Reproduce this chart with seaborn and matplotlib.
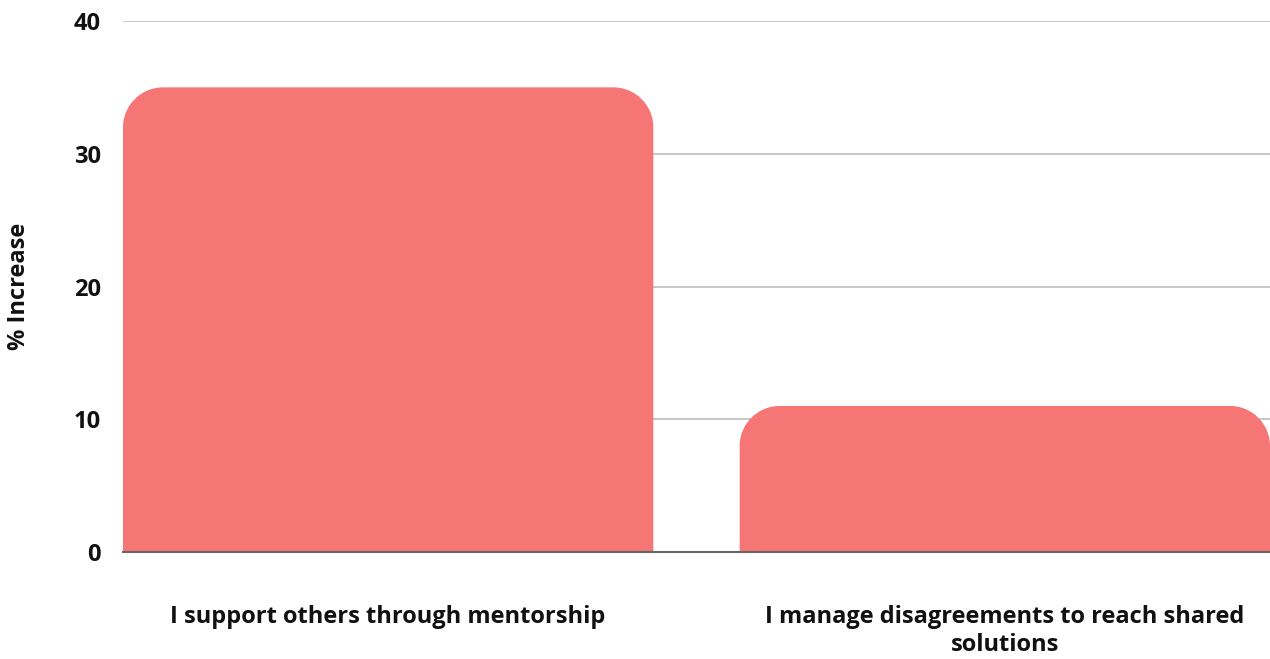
import matplotlib
matplotlib.use('Agg')
import matplotlib.pyplot as plt
import seaborn as sns
import pandas as pd
from matplotlib.path import Path
from matplotlib.patches import PathPatch

# ─── Data ────────────────────────────────────────────────────────────────────
categories = ['I support others through mentorship',
              'I manage disagreements to reach shared\nsolutions']
values = [35, 11]
y_ticks = [0, 10, 20, 30, 40]

BAR_COLOR = '#F67575'
df = pd.DataFrame({'category': categories, 'value': values})

sns.set_theme(style='white')
plt.rcParams['font.family'] = ['Open Sans', 'DejaVu Sans']

fig = plt.figure(figsize=(12.7, 6.59), dpi=100)
ax = fig.add_axes([123 / 1270, 1 - 552 / 659, (1270 - 123) / 1270, (552 - 21) / 659])

sns.barplot(data=df, x='category', y='value', color=BAR_COLOR,
            saturation=1, width=0.86, ax=ax, zorder=2)

ax.set_xlim(-0.43, 1.43)
ax.set_ylim(0, 40)
ax.set_yticks(y_ticks)


# ─── Round the top corners of each bar ───────────────────────────────────────
def rounded_top(x0, x1, y1, rx, ry):
    k = 0.5523
    verts = [(x0, 0), (x0, y1 - ry),
             (x0, y1 - ry + k * ry), (x0 + rx - k * rx, y1), (x0 + rx, y1),
             (x1 - rx, y1),
             (x1 - rx + k * rx, y1), (x1, y1 - ry + k * ry), (x1, y1 - ry),
             (x1, 0), (x0, 0)]
    codes = [Path.MOVETO, Path.LINETO,
             Path.CURVE4, Path.CURVE4, Path.CURVE4,
             Path.LINETO,
             Path.CURVE4, Path.CURVE4, Path.CURVE4,
             Path.LINETO, Path.CLOSEPOLY]
    return Path(verts, codes)


radius_px = 40
px_x = (1270 - 123) / (1.43 + 0.43)
px_y = (552 - 21) / 40
for bar in list(ax.patches):
    x0 = bar.get_x()
    x1 = x0 + bar.get_width()
    h = bar.get_height()
    bar.remove()
    ax.add_patch(PathPatch(rounded_top(x0, x1, h, radius_px / px_x, radius_px / px_y),
                           facecolor=BAR_COLOR, edgecolor='none', zorder=2))

# ─── Styling ─────────────────────────────────────────────────────────────────
ax.yaxis.grid(True, color='#BDBDBD', linewidth=1.2, zorder=0)
ax.set_axisbelow(True)
for side in ['top', 'right', 'left']:
    ax.spines[side].set_visible(False)
ax.spines['bottom'].set_color('#666666')
ax.spines['bottom'].set_linewidth(1.5)
ax.spines['bottom'].set_zorder(3)

ax.tick_params(axis='y', length=0, pad=16, labelsize=17)
ax.tick_params(axis='x', length=0, pad=38, labelsize=17)
for lbl in ax.get_xticklabels() + ax.get_yticklabels():
    lbl.set_fontweight('bold')
    lbl.set_color('#111111')
for lbl in ax.get_xticklabels():
    lbl.set_multialignment('center')
    lbl.set_linespacing(1.25)

ax.set_xlabel('')
ax.set_ylabel('% Increase', fontsize=17, fontweight='bold', color='#111111')
ax.yaxis.set_label_coords(-92 / 1147, 0.5)

fig.savefig('out.png', dpi=100)
